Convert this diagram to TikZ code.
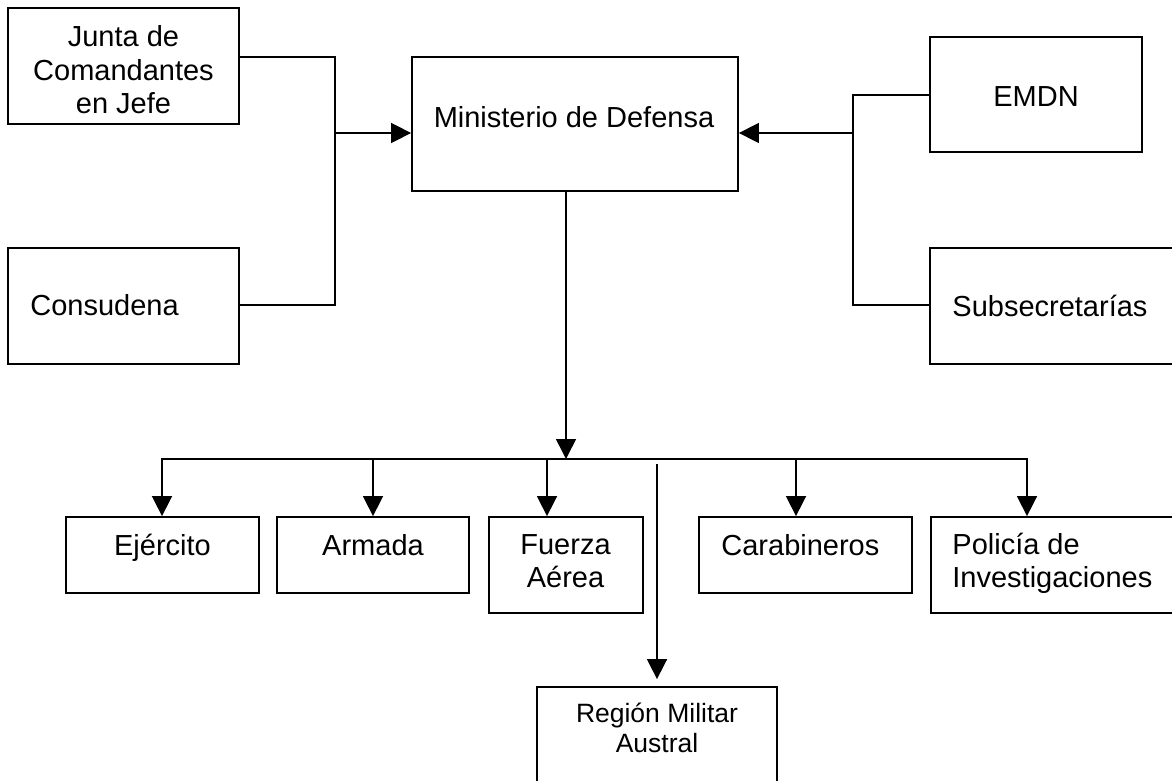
\documentclass[tikz,border=0pt]{standalone}
\usepackage{fontspec}
\setmainfont{Liberation Sans}
\usetikzlibrary{arrows.meta}

\begin{document}
\begin{tikzpicture}[x=0.5pt, y=-0.5pt,
  unit/.style={rectangle, draw=black, line width=0.9pt, inner sep=0pt},
  txt/.style={inner sep=0pt, anchor=base, align=center,
              font=\fontsize{14.5}{16.5}\selectfont},
  link/.style={line width=0.8pt, line cap=rect},
  arr/.style={-{Triangle[length=10pt, width=10pt]}, line width=0.8pt}
]
  \useasboundingbox (0,0) rectangle (1172,781);
  % upper level
  \node[unit, minimum width=115.5pt, minimum height=58pt] (junta)     at (123.5,66)   {};
  \node[unit, minimum width=115.5pt, minimum height=58pt] (consudena) at (123.5,306)  {};
  \node[unit, minimum width=163pt,   minimum height=67pt] (mindef)    at (575,124)    {};
  \node[unit, minimum width=106pt,   minimum height=57.5pt] (emdn)    at (1036,94.5)  {};
  \node[unit, minimum width=122.5pt, minimum height=58pt] (subsec)    at (1052.5,306) {};
  % lower level
  \node[unit, minimum width=96.5pt,  minimum height=38pt] (ejercito)  at (162.5,555)  {};
  \node[unit, minimum width=96pt,    minimum height=38pt] (armada)    at (373,555)    {};
  \node[unit, minimum width=77pt,    minimum height=48pt] (fuerza)    at (566,565)    {};
  \node[unit, minimum width=106.5pt, minimum height=38pt] (carab)     at (805.5,555)  {};
  \node[unit, minimum width=122pt,   minimum height=48pt] (policia)   at (1053,565)   {};
  \node[unit, minimum width=120pt,   minimum height=51.5pt] (region)  at (657,738.5)  {};

  % texts (multi-line ones sit on their last baseline)
  \node[txt] (tjunta) at (123.5,113) {Junta de\\Comandantes\\en Jefe};
  \node[txt, anchor=base west] (tconsudena) at (30,315) {Consudena};
  \node[txt] (tmindef) at (574,127) {Ministerio de Defensa};
  \node[txt] (temdn) at (1036,106) {EMDN};
  \node[txt, anchor=base west] (tsubsec) at (952,316) {Subsecretarías};
  \node[txt] (tejercito) at (162.5,555) {Ejército};
  \node[txt] (tarmada) at (373,555) {Armada};
  \node[txt] (tfuerza) at (565.5,587) {Fuerza\\Aérea};
  \node[txt, anchor=base west] (tcarab) at (721,555) {Carabineros};
  \node[txt, anchor=base west, align=left] (tpolicia) at (952,587) {Policía de\\Investigaciones};
  \node[txt, font=\fontsize{13.25}{15}\selectfont] (tregion) at (657,752) {Región Militar\\Austral};

  % connectors
  \coordinate (lbus) at (335,133);
  \coordinate (rbus) at (853,133);
  \coordinate (hub)  at (566,459);
  \coordinate (barl) at (162,459);
  \coordinate (barr) at (1027,459);
  \coordinate (rtop) at (657,464);

  \draw[link] (junta.east |- 0,57) -| (lbus) |- (consudena.east |- 0,305);
  \draw[arr] (lbus) -- (mindef.west |- lbus);
  \draw[link] (emdn.west |- 0,95) -| (rbus) |- (subsec.west |- 0,305);
  \draw[arr] (rbus) -- (mindef.east |- rbus);

  \draw[arr] (mindef.south -| hub) -- (hub);
  \draw[link] (barl) -- (barr);
  \foreach \pos/\dest in {162/ejercito, 373/armada, 547/fuerza, 796/carab, 1027/policia}{
    \coordinate (drop-\dest) at (\pos,459);
    \draw[arr] (drop-\dest) -- (\dest.north -| drop-\dest);
  }
  \draw[arr, shorten >=3.5pt] (rtop) -- (region.north);
\end{tikzpicture}
\end{document}
